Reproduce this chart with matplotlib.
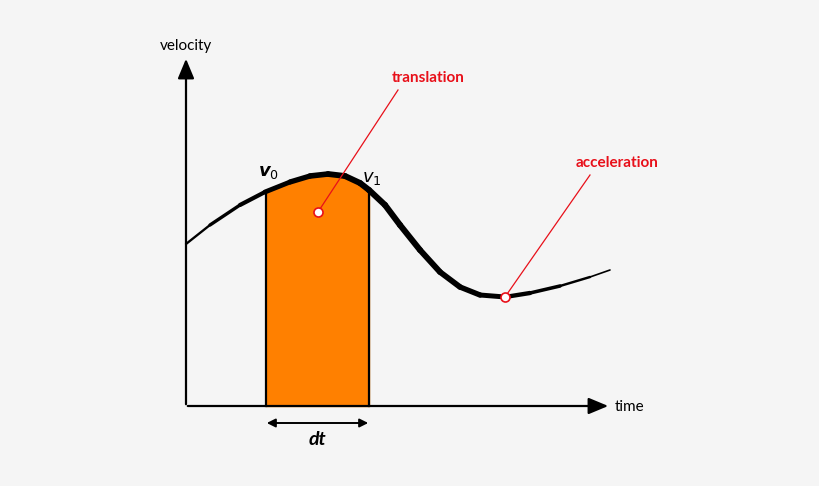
import numpy as np
import matplotlib
matplotlib.use("Agg")
import matplotlib.pyplot as plt
from matplotlib.collections import LineCollection

plt.rcParams['font.family'] = ['Lato', 'DejaVu Sans']

# curve points (diagram pixel coordinates)
curve_x = [186, 210, 240, 265, 290, 310, 328, 345, 360, 369, 385, 400, 420, 440, 460, 480, 505, 530, 560, 590, 610]
curve_y = [244, 225, 205, 192, 182, 176, 174, 176, 183, 190, 205, 225, 250, 272, 287, 295, 297, 293, 286, 277, 270]
interval = [266, 369]
translation_pt = (318, 212)
accel_pt = (505, 297)

fig = plt.figure(figsize=(8.2, 4.86), dpi=100)
fig.patch.set_facecolor('#f5f5f5')
ax = fig.add_axes([0, 0, 1, 1])
ax.set_xlim(0, 820); ax.set_ylim(486, 0); ax.axis('off')
ax.set_facecolor('#f5f5f5')

# orange area
xs = np.linspace(interval[0], interval[1], 100)
ys = np.interp(xs, curve_x, curve_y)
ax.fill_between(xs, ys, 406, color='#ff8000', zorder=1)
for xv in interval:
    ax.plot([xv, xv], [406, np.interp(xv, curve_x, curve_y)], color='black', lw=1.6, zorder=2)

# axes arrows
ax.annotate('', xy=(186, 56), xytext=(186, 407),
            arrowprops=dict(arrowstyle='-|>,head_length=1.2,head_width=0.5', color='black', lw=1.6))
ax.annotate('', xy=(611, 406), xytext=(185, 406),
            arrowprops=dict(arrowstyle='-|>,head_length=1.2,head_width=0.5', color='black', lw=1.6))
ax.text(186, 46, 'velocity', ha='center', va='center', fontsize=11)
ax.text(615, 407, 'time', ha='left', va='center', fontsize=11)

# curve with variable width
cx = np.array(curve_x, float); cy = np.array(curve_y, float)
pts = np.column_stack([cx, cy]).reshape(-1, 1, 2)
segs = np.concatenate([pts[:-1], pts[1:]], axis=1)
mid = (cx[:-1] + cx[1:]) / 2
t = (mid - 186) / (610 - 186)
widths = 1.2 + 3.2 * np.sin(np.pi * np.clip(t * 1.05, 0, 1)) ** 0.8
ax.add_collection(LineCollection(segs, linewidths=widths, colors='black', capstyle='round', zorder=3))

# labels
ax.text(258, 172, r'$\boldsymbol{v}_{\mathit{0}}$', fontsize=13, fontweight='bold', fontstyle='italic', ha='left', va='center')
ax.text(260, 172, 'v', fontsize=1, alpha=0)
ax.text(362, 178, r'$\mathbf{\mathit{v}_{\mathit{1}}}$', fontsize=13, ha='left', va='center')

ax.annotate('', xy=(264, 423), xytext=(371, 423),
            arrowprops=dict(arrowstyle='<|-|>,head_length=0.5,head_width=0.25', color='black', lw=1.4))
ax.text(317, 439, 'dt', fontsize=14, fontstyle='italic', fontweight='bold', ha='center', va='center')

red = '#e8101a'
ax.plot([translation_pt[0], 398], [translation_pt[1], 90], color=red, lw=0.9, zorder=4)
ax.plot([accel_pt[0], 590], [accel_pt[1], 175], color=red, lw=0.9, zorder=4)
for p in (translation_pt, accel_pt):
    ax.plot(*p, 'o', ms=6.5, mfc='white', mec=red, mew=1.2, zorder=5)
ax.text(428, 78, 'translation', color=red, fontsize=11, fontweight='bold', ha='center', va='center')
ax.text(617, 163, 'acceleration', color=red, fontsize=11, fontweight='bold', ha='center', va='center')

fig.savefig('out.png', dpi=100, facecolor=fig.get_facecolor())
